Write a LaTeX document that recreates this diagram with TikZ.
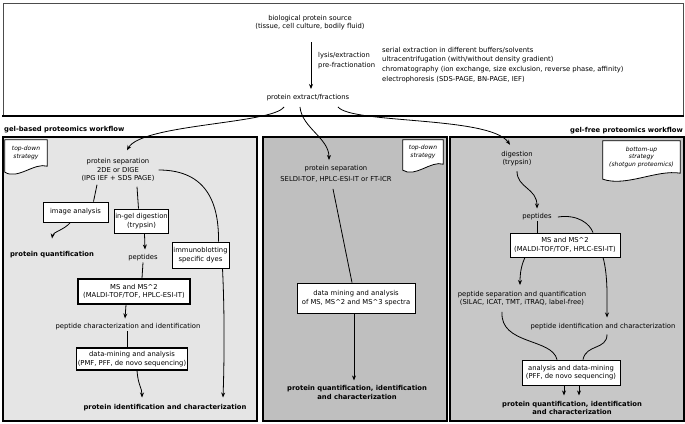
\documentclass[tikz,border=0pt]{standalone}
\usepackage{fontspec}
\setmainfont{DejaVu Sans}
\usepackage{xcolor}
\usetikzlibrary{arrows.meta, calc}
\pgfdeclarelayer{back}
\pgfdeclarelayer{mid}
\pgfsetlayers{back,mid,main}
\definecolor{gelbg}{gray}{0.9}
\definecolor{topbg}{gray}{0.75}
\definecolor{freebg}{gray}{0.78}
\tikzset{
  txt/.style={font=\fontsize{6.8}{8.5}\selectfont, align=center, inner sep=1pt},
  hd/.style={txt, font=\bfseries\fontsize{6.8}{8.5}\selectfont},
  block/.style={txt, rectangle, draw=black, fill=white, line width=0.8pt},
  note/.style={txt, font=\itshape\fontsize{6}{7.6}\selectfont, inner sep=0pt},
  panel/.style={draw=black, line width=1.2pt},
  link/.style={line width=0.8pt},
  arrow/.style={link, -{Stealth[length=5pt,width=4pt]}}
}
% wavy note box drawn under a note node
\newcommand{\docnote}[1]{%
  \begin{pgfonlayer}{mid}
  \draw[fill=white, line width=0.8pt] (#1.north west) -- (#1.north east) -- (#1.south east)
    .. controls ($(#1.south west)!0.7!(#1.south east)+(0,4pt)$) and ($(#1.south west)!0.3!(#1.south east)+(0,-14pt)$) .. ([yshift=-6pt]#1.south west) -- cycle;
  \end{pgfonlayer}}
\begin{document}
\begin{tikzpicture}[x=1pt, y=-1pt]
  \useasboundingbox (0,0) rectangle (685,423);
  % frames
  \begin{pgfonlayer}{back}
    \draw[black!70, line width=1pt] (3,3) rectangle (683,116);
    \draw[line width=1.6pt] (2,116) -- (684,116);
    \draw[panel, fill=gelbg] (3,137) rectangle (257,421);
    \draw[panel, fill=topbg] (263,137) rectangle (447,421);
    \draw[panel, fill=freebg] (450,137) rectangle (684,421);
  \end{pgfonlayer}

  % sample preparation
  \node[txt] (src) at (310,22.5) {biological protein source\\(tissue, cell culture, bodily fluid)};
  \node[txt] (ext) at (308,98) {protein extract/fractions};
  \node[txt, align=left, anchor=west, font=\fontsize{6.8}{10}\selectfont] (lys) at (317,61) {lysis/extraction\\pre-fractionation};
  \node[txt, align=left, anchor=west, font=\fontsize{6.8}{9.8}\selectfont] (meth) at (381,65) {serial extraction in different buffers/solvents\\ultracentrifugation (with/without density gradient)\\chromatography (ion exchange, size exclusion, reverse phase, affinity)\\electrophoresis (SDS-PAGE, BN-PAGE, IEF)};
  \draw[arrow] ([xshift=1pt, yshift=-11pt]src.south) -- ([xshift=3pt, yshift=4.5pt]ext.north);

  \node[hd, anchor=west] (gbl) at (3,130) {gel-based proteomics workflow};
  \node[hd, anchor=east] (gfl) at (684,131) {gel-free proteomics workflow};

  % gel-based
  \node[note, minimum width=42pt, minimum height=26pt] (noteL) at (26,153) {top-down\\strategy};
  \docnote{noteL}
  \node[txt] (sepL) at (118,170) {protein separation\\2DE or DIGE\\(IPG IEF + SDS PAGE)};
  \node[block, minimum width=65pt, minimum height=20pt] (imgL) at (75.5,212) {image analysis};
  \node[hd] (quantL) at (52,255) {protein quantification};
  \node[block, minimum width=53pt, minimum height=24pt] (digL) at (141.5,221) {in-gel digestion\\(trypsin)};
  \node[txt] (pepL) at (143,258) {peptides};
  \node[block, minimum width=57pt, minimum height=26pt] (immL) at (200.5,255) {immunoblotting\\specific dyes};
  \node[block, line width=1.6pt, minimum width=112pt, minimum height=25pt] (msL) at (134,291.5) {MS and MS\textasciicircum 2\\(MALDI-TOF/TOF, HPLC-ESI-IT)};
  \node[txt] (charL) at (128,327) {peptide characterization and identification};
  \node[block, line width=1.1pt, minimum width=110pt, minimum height=22pt] (dmL) at (132,359) {data-mining and analysis\\(PMF, PFF, de novo sequencing)};
  \node[hd] (idL) at (165,408) {protein identification and characterization};

  \draw[link] ([xshift=-21pt, yshift=-2pt]sepL.south) -- ([xshift=18pt]imgL.north);
  \draw[arrow] ([xshift=-5pt]imgL.south) .. controls (64,230) and (53,232) .. ([yshift=12pt]quantL.north);
  \draw[link] ([xshift=19pt, yshift=-4pt]sepL.south) -- ([xshift=-3pt]digL.north);
  \draw[arrow] ([xshift=3pt]digL.south) -- ([xshift=2pt, yshift=4pt]pepL.north);
  \draw[link] ([xshift=3pt]sepL.east) .. controls (208,170) and (219,205) .. ([xshift=18pt]immL.north);
  \draw[arrow] ([xshift=22pt]immL.south) .. controls (225,320) and (224,370) .. ([xshift=58pt, yshift=6pt]idL.north);
  \draw[link] (pepL.south) -- ([xshift=8pt]msL.north);
  \draw[arrow] ([xshift=-8pt]msL.south) -- ([xshift=-3pt, yshift=4pt]charL.north);
  \draw[link] ([xshift=-1pt]charL.south) -- ([xshift=-5pt]dmL.north);
  \draw[arrow] ([xshift=5pt]dmL.south) .. controls (138,385) and (142,388) .. ([xshift=-23pt, yshift=6pt]idL.north);

  % top-down
  \node[note, minimum width=40pt, minimum height=24pt] (noteM) at (423,152) {top-down\\strategy};
  \docnote{noteM}
  \node[txt] (sepM) at (336,174) {protein separation\\[3pt]SELDI-TOF, HPLC-ESI-IT or FT-ICR};
  \node[block, minimum width=118pt, minimum height=30pt] (dmM) at (356,298) {data mining and analysis\\of MS, MS\textasciicircum 2 and MS\textasciicircum 3 spectra};
  \node[hd] (quantM) at (357,392.5) {protein quantification, identification\\and characterization};
  \draw[link] ([xshift=-3pt, yshift=-5pt]sepM.south) -- ([xshift=-4pt]dmM.north);
  \draw[arrow] ([xshift=-2pt]dmM.south) -- ([xshift=-3pt, yshift=4pt]quantM.north);

  % gel-free
  \node[note, minimum width=77pt, minimum height=32pt] (noteR) at (641.5,157) {bottom-up\\strategy\\(shotgun proteomics)};
  \docnote{noteR}
  \node[txt] (digR) at (517,158.5) {digestion\\(trypsin)};
  \node[txt] (pepR) at (537,217) {peptides};
  \node[block, minimum width=110pt, minimum height=24pt] (msR) at (565,245) {MS and MS\textasciicircum 2\\(MALDI-TOF/TOF, HPLC-ESI-IT)};
  \node[txt] (psR) at (522,298.5) {peptide separation and quantification\\(SILAC, ICAT, TMT, iTRAQ, label-free)};
  \node[txt] (piR) at (603,327) {peptide identification and characterization};
  \node[block, minimum width=98pt, minimum height=25pt] (anR) at (571,372.5) {analysis and data-mining\\(PFF, de novo sequencing)};
  \node[hd] (quantR) at (572,408) {protein quantification, identification\\and characterization};
  \draw[arrow] ([yshift=-4pt]digR.south) .. controls (517,188) and (537,188) .. ([yshift=4pt]pepR.north);
  \draw[link] (pepR.south) -- ([xshift=-28pt]msR.north);
  \draw[link] ([xshift=5pt]pepR.east) .. controls (578,214) and (590,224) .. ([xshift=28pt]msR.north);
  \draw[arrow] ([xshift=-40pt]msR.south) .. controls (521,266) and (520,274) .. ([xshift=-2pt, yshift=5pt]psR.north);
  \draw[arrow] ([xshift=38pt]msR.south) .. controls (608,275) and (607,300) .. ([xshift=4pt, yshift=5pt]piR.north);
  \draw[link] ([xshift=-20pt, yshift=-5pt]psR.south) .. controls (500,345) and (552,338) .. ([xshift=-14pt]anR.north);
  \draw[link] ([xshift=4pt, yshift=-3pt]piR.south) .. controls (607,350) and (586,344) .. ([xshift=12pt]anR.north);
  \draw[arrow] ([xshift=-7pt]anR.south) -- ([xshift=-8pt, yshift=4.5pt]quantR.north);
  \draw[arrow] ([xshift=8pt]anR.south) -- ([xshift=7pt, yshift=4.5pt]quantR.north);

  % from the extract
  \draw[arrow] ([xshift=-24pt, yshift=-4.5pt]ext.south) .. controls (272,124) and (142,124) .. ([xshift=9pt, yshift=7pt]sepL.north);
  \draw[arrow] ([xshift=-8pt, yshift=-4.5pt]ext.south) .. controls (302,128) and (329,138) .. ([xshift=-7pt, yshift=4pt]sepM.north);
  \draw[arrow] ([xshift=30pt, yshift=-4.5pt]ext.south) .. controls (352,124) and (490,116) .. ([xshift=-7pt, yshift=5pt]digR.north);
\end{tikzpicture}
\end{document}
